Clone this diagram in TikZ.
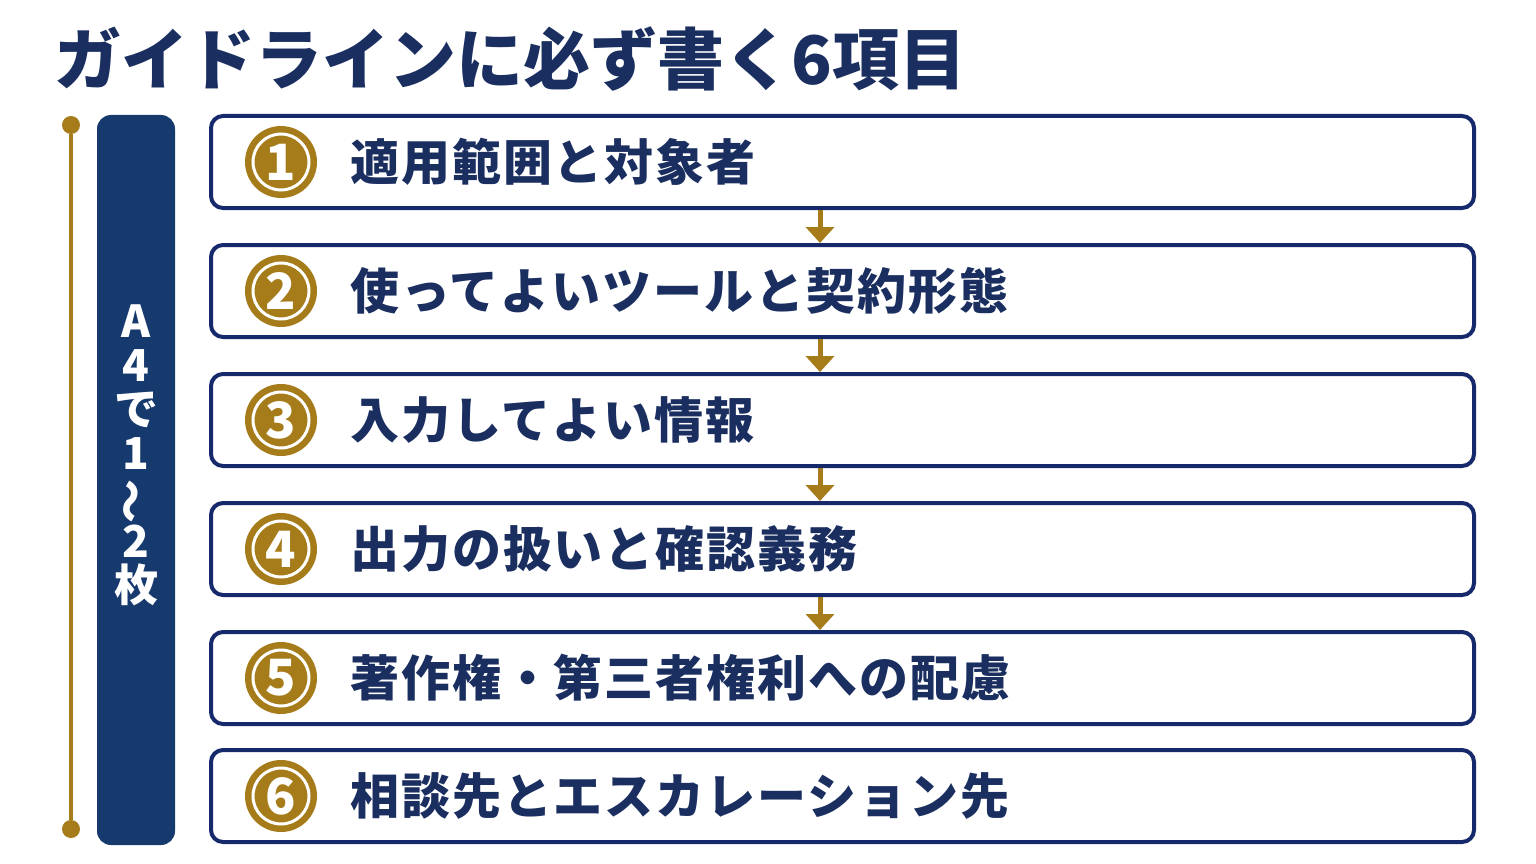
\documentclass[tikz,border=0pt]{standalone}
\usepackage{fontspec}
\newfontfamily\jp{Noto Sans CJK JP}[BoldFont={Noto Sans CJK JP Black}]
\newfontfamily\jpwide{Noto Sans CJK JP}[BoldFont={Noto Sans CJK JP Black},LetterSpace=4]
\usetikzlibrary{positioning}
\usetikzlibrary{arrows.meta}
\definecolor{navy}{HTML}{15296B}
\definecolor{barblue}{HTML}{173A6E}
\definecolor{inkblue}{HTML}{1A2E60}
\definecolor{gold}{HTML}{A67C1B}

\tikzset{
  itembox/.style={rectangle,draw=navy,line width=4pt,rounded corners=12pt,fill=white,minimum width=1263pt,minimum height=92pt},
  numcirc/.style={circle,fill=gold,minimum size=72pt,inner sep=0pt,text=white,font=\jp\bfseries\fontsize{50}{50}\selectfont,
    path picture={\draw[white,line width=3pt] (path picture bounding box.center) circle (28pt);}},
  itemtext/.style={anchor=west,inner sep=0pt,text=inkblue,font=\jpwide\bfseries\fontsize{49}{60}\selectfont},
  flowarrow/.style={draw=gold,line width=5pt,-{Triangle[width=28pt,length=16pt,fill=gold]}},
  golddot/.style={circle,fill=gold,minimum size=18pt,inner sep=0pt}
}

\begin{document}
\begin{tikzpicture}[x=1pt,y=-1pt]
\fill[white] (0,0) rectangle (1536,864);
\useasboundingbox (0,0) rectangle (1536,864);

\node [anchor=west,inner sep=0pt,text=inkblue,font=\jp\bfseries\fontsize{67}{67}\selectfont] (title) at (54,59) {ガイドラインに必ず書く6項目};

% left side: gold rail and A4 bar
\node [golddot] (railtop) at (71,125) {};
\node [golddot] (railbot) at (71,829) {};
\draw [gold,line width=4pt] (railtop) -- (railbot);

\node [rectangle,fill=barblue,rounded corners=14pt,minimum width=78pt,minimum height=730pt] (sidebar) at (136,480) {};
\node [align=center,text=white,inner sep=0pt,font=\jp\bfseries\fontsize{44}{44}\selectfont] (sidetext) at ([yshift=25pt]sidebar.center) {A\\4\\で\\1\\\rotatebox[origin=c]{90}{〜}\\2\\枚};

% item boxes
\node [itembox] (box1) at (842.5,162) {};
\node [itembox,below=33pt of box1] (box2) {};
\node [itembox,below=33pt of box2] (box3) {};
\node [itembox,below=33pt of box3] (box4) {};
\node [itembox,below=33pt of box4] (box5) {};
\node [itembox,below=22pt of box5] (box6) {};

\node [numcirc] (num1) at ([xshift=72pt]box1.west) {1};
\node [numcirc] (num2) at ([xshift=72pt]box2.west) {2};
\node [numcirc] (num3) at ([xshift=72pt]box3.west) {3};
\node [numcirc] (num4) at ([xshift=72pt]box4.west) {4};
\node [numcirc] (num5) at ([xshift=72pt]box5.west) {5};
\node [numcirc] (num6) at ([xshift=72pt]box6.west) {6};

\node [itemtext] (text1) at ([xshift=141pt]box1.west) {適用範囲と対象者};
\node [itemtext] (text2) at ([xshift=141pt]box2.west) {使ってよいツールと契約形態};
\node [itemtext] (text3) at ([xshift=141pt]box3.west) {入力してよい情報};
\node [itemtext] (text4) at ([xshift=141pt]box4.west) {出力の扱いと確認義務};
\node [itemtext] (text5) at ([xshift=141pt]box5.west) {著作権・第三者権利への配慮};
\node [itemtext] (text6) at ([xshift=141pt]box6.west) {相談先とエスカレーション先};

% arrows between boxes
\coordinate (flowx) at (820,0);
\draw [flowarrow] (box1.south -| flowx) -- (box2.north -| flowx);
\draw [flowarrow] (box2.south -| flowx) -- (box3.north -| flowx);
\draw [flowarrow] (box3.south -| flowx) -- (box4.north -| flowx);
\draw [flowarrow] (box4.south -| flowx) -- (box5.north -| flowx);
\end{tikzpicture}
\end{document}
